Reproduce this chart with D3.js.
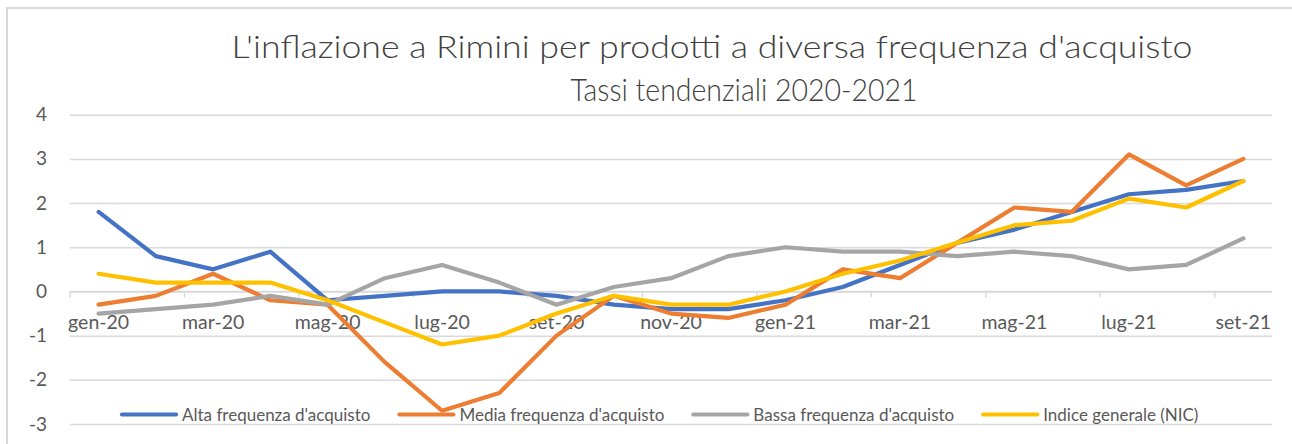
<!DOCTYPE html>
<html>
<head>
<meta charset="utf-8">
<script src="https://cdn.jsdelivr.net/npm/d3@7"></script>
<style>
  html, body { margin: 0; padding: 0; background: #ffffff; }
  svg { display: block; }
  text { font-family: Lato, "Open Sans", "Liberation Sans", sans-serif; }
</style>
</head>
<body>
<svg id="chart" width="1292" height="444"></svg>
<script>
const months = ["gen-20","feb-20","mar-20","apr-20","mag-20","giu-20","lug-20","ago-20","set-20","ott-20","nov-20","dic-20",
                "gen-21","feb-21","mar-21","apr-21","mag-21","giu-21","lug-21","ago-21","set-21"];
const alta  = [1.8, 0.8, 0.5, 0.9, -0.2, -0.1, 0.0, 0.0, -0.1, -0.3, -0.4, -0.4, -0.2, 0.1, 0.6, 1.1, 1.4, 1.8, 2.2, 2.3, 2.5];
const media = [-0.3, -0.1, 0.4, -0.2, -0.3, -1.6, -2.7, -2.3, -1.0, -0.1, -0.5, -0.6, -0.3, 0.5, 0.3, 1.1, 1.9, 1.8, 3.1, 2.4, 3.0];
const bassa = [-0.5, -0.4, -0.3, -0.1, -0.3, 0.3, 0.6, 0.2, -0.3, 0.1, 0.3, 0.8, 1.0, 0.9, 0.9, 0.8, 0.9, 0.8, 0.5, 0.6, 1.2];
const nic   = [0.4, 0.2, 0.2, 0.2, -0.2, -0.7, -1.2, -1.0, -0.5, -0.1, -0.3, -0.3, 0.0, 0.4, 0.7, 1.1, 1.5, 1.6, 2.1, 1.9, 2.5];
const seriesNames = ["Alta frequenza d'acquisto", "Media frequenza d'acquisto", "Bassa frequenza d'acquisto", "Indice generale (NIC)"];
const seriesColors = ["#4472C4", "#ED7D31", "#A5A5A5", "#FFC000"];
const yTicks = [-3, -2, -1, 0, 1, 2, 3, 4];
const xTickLabels = ["gen-20","mar-20","mag-20","lug-20","set-20","nov-20","gen-21","mar-21","mag-21","lug-21","set-21"];
const titleLines = ["L'inflazione a Rimini per prodotti a diversa frequenza d'acquisto", "Tassi tendenziali 2020-2021"];

const svg = d3.select("#chart");
const plotL = 70, plotR = 1272, plotT = 114.7, plotB = 424;

// chart border
svg.append("path").attr("d", "M7,444 V8 H1292").attr("fill", "none").attr("stroke", "#d9d9d9").attr("stroke-width", 2);

const x = d3.scaleBand().domain(months).range([plotL, plotR]).padding(0);
const y = d3.scaleLinear().domain([-3, 4]).range([plotB, plotT]);
const cx = m => x(m) + x.bandwidth() / 2;

// y axis with gridlines
const yAxis = svg.append("g").attr("transform", `translate(${plotL},0)`)
  .call(d3.axisLeft(y).tickValues(yTicks).tickFormat(d => String(d)).tickSize(-(plotR - plotL)).tickPadding(23));
yAxis.select(".domain").remove();
yAxis.selectAll(".tick line").attr("stroke", "#d9d9d9").attr("stroke-width", 1.5);
yAxis.selectAll(".tick text").attr("fill", "#595959").style("font-size", "19px").attr("font-family", null);

// x axis at 0
const xAxisG = svg.append("g").attr("transform", `translate(0,${y(0)})`);
xAxisG.append("line").attr("x1", plotL).attr("x2", plotR).attr("stroke", "#d9d9d9").attr("stroke-width", 1.5);
const boundaryIdx = d3.range(0, months.length, 2);
xAxisG.selectAll("line.tk").data(boundaryIdx).join("line").attr("class", "tk")
  .attr("x1", i => x(months[i])).attr("x2", i => x(months[i]))
  .attr("y1", 0).attr("y2", 6).attr("stroke", "#d9d9d9").attr("stroke-width", 1.5);
const xAxis = xAxisG.append("g")
  .call(d3.axisBottom(x).tickValues(xTickLabels).tickSize(0).tickPadding(0));
xAxis.select(".domain").remove();
xAxis.selectAll(".tick text").attr("y", 38).attr("dy", 0).attr("fill", "#595959")
  .style("font-size", "19.5px").attr("font-family", null);
xAxis.selectAll(".tick").attr("transform", d => `translate(${cx(d)},0)`);

// lines
const allSeries = [alta, media, bassa, nic];
const line = d3.line().x((d, i) => cx(months[i])).y(d => y(d));
svg.append("g").selectAll("path").data(allSeries).join("path")
  .attr("d", line).attr("fill", "none")
  .attr("stroke", (d, i) => seriesColors[i]).attr("stroke-width", 4.2)
  .attr("stroke-linejoin", "round").attr("stroke-linecap", "round");

// title (condensed to match the original narrow face)
svg.append("text").attr("x", 712).attr("y", 58).attr("text-anchor", "middle")
  .attr("fill", "#404040").style("font-weight", 300).style("font-size", "32px")
  .attr("textLength", 961).attr("lengthAdjust", "spacingAndGlyphs").text(titleLines[0]);
svg.append("text").attr("x", 744).attr("y", 101).attr("text-anchor", "middle")
  .attr("fill", "#404040").style("font-weight", 300).style("font-size", "32px")
  .attr("textLength", 347).attr("lengthAdjust", "spacingAndGlyphs").text(titleLines[1]);

// legend
const lg = svg.append("g");
let lx = 122;
const ly = 414.5;
seriesNames.forEach((name, i) => {
  lg.append("line").attr("x1", lx).attr("x2", lx + 54).attr("y1", ly).attr("y2", ly)
    .attr("stroke", seriesColors[i]).attr("stroke-width", 4.2).attr("stroke-linecap", "round");
  const t = lg.append("text").attr("x", lx + 60).attr("y", ly + 6).attr("fill", "#595959")
    .style("font-size", "17px").text(name);
  lx += 60 + t.node().getComputedTextLength() + 29;
});
</script>
</body>
</html>
